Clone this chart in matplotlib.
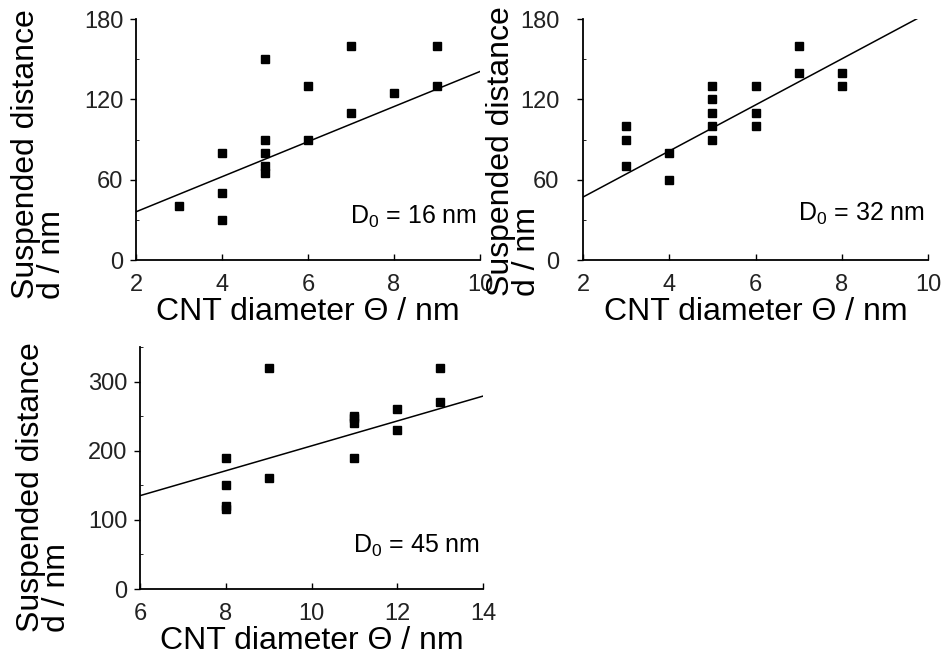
import numpy as np
import matplotlib.pyplot as plt
from matplotlib.ticker import MultipleLocator

plt.rcParams['font.family'] = ['Liberation Sans', 'DejaVu Sans']
plt.rcParams['mathtext.default'] = 'regular'

# panel 1: D0 = 16 nm
x16 = [3, 4, 4, 4, 5, 5, 5, 5, 5, 6, 6, 7, 7, 8, 9, 9]
d16 = [40, 80, 50, 30, 150, 90, 80, 70, 65, 130, 90, 160, 110, 125, 160, 130]
fit16 = (13.1, 9.8)

# panel 2: D0 = 32 nm
x32 = [3, 3, 3, 4, 4, 5, 5, 5, 5, 5, 6, 6, 6, 7, 7, 8, 8]
d32 = [100, 90, 70, 80, 60, 130, 120, 110, 100, 90, 130, 110, 100, 160, 140, 140, 130]
fit32 = (17.2, 12.6)

# panel 3: D0 = 45 nm
x45 = [8, 8, 8, 8, 9, 9, 11, 11, 11, 11, 12, 12, 13, 13]
d45 = [190, 150, 120, 115, 320, 160, 250, 247, 240, 190, 260, 230, 320, 270]
fit45 = (18.0, 27.0)

W, H = 946, 661
fig = plt.figure(figsize=(W / 100, H / 100), dpi=100)


def make_ax(left, top, right, bottom):
    return fig.add_axes([left / W, 1 - bottom / H, (right - left) / W, (bottom - top) / H])


def panel(ax, x, d, fit, xlim, ylim, yticks, ymin, label, ylab_x, ylab_y, txt_y, ypad=5):
    ax.plot(x, d, 's', color='black', markersize=5.5)
    xx = np.array(xlim, dtype=float)
    ax.plot(xx, fit[0] * xx + fit[1], color='black', lw=1.1)
    ax.set_xlim(xlim)
    ax.set_ylim(ylim)
    ax.set_yticks(yticks)
    ax.xaxis.set_major_locator(MultipleLocator(2))
    ax.yaxis.set_minor_locator(MultipleLocator(ymin))
    for s in ['top', 'right']:
        ax.spines[s].set_visible(False)
    ax.spines['left'].set_linewidth(1.3)
    ax.spines['bottom'].set_linewidth(1.3)
    ax.tick_params(axis='y', direction='out', length=4, width=1, labelsize=17,
                   labelcolor='#222', pad=ypad)
    ax.tick_params(axis='y', which='minor', direction='in', length=2, width=0.6)
    ax.tick_params(axis='x', direction='in', length=4, width=1, labelsize=17,
                   labelcolor='#222', pad=10)
    ax.set_xlabel('CNT diameter Θ / nm', fontsize=23, labelpad=1)
    ax.set_ylabel('Suspended distance\nd / nm', fontsize=23, linespacing=0.85,
                  multialignment='left')
    ax.yaxis.set_label_coords(ylab_x, ylab_y)
    ax.text(0.99, txt_y, label, transform=ax.transAxes, ha='right', va='center',
            fontsize=18)


ax1 = make_ax(136, 19, 480, 260)
panel(ax1, x16, d16, fit16, (2, 10), (0, 180), [0, 60, 120, 180], 30,
      'D$_0$ = 16 nm', -0.2, 0.44, 0.18)

ax2 = make_ax(583, 19, 928, 260)
panel(ax2, x32, d32, fit32, (2, 10), (0, 180), [0, 60, 120, 180], 30,
      'D$_0$ = 32 nm', -0.118, 0.45, 0.19, ypad=13)

ax3 = make_ax(140, 347, 483, 589)
panel(ax3, x45, d45, fit45, (6, 14), (0, 350), [0, 100, 200, 300], 50,
      'D$_0$ = 45 nm', -0.198, 0.42, 0.18)

fig.savefig('out.png', dpi=100)
